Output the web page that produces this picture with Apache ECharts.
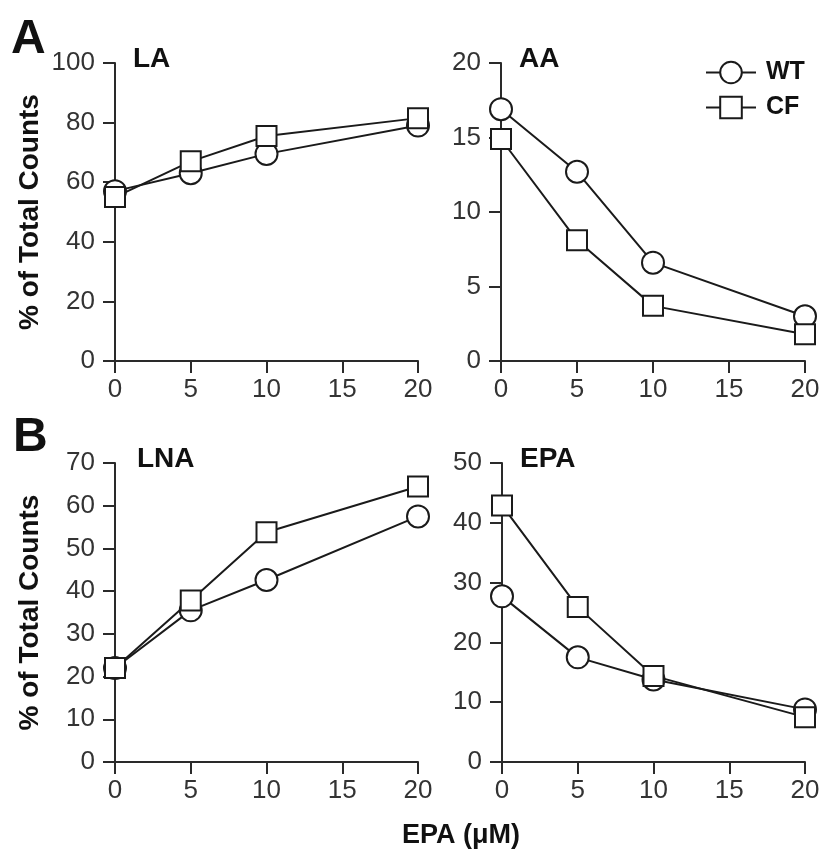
<!DOCTYPE html>
<html><head><meta charset="utf-8">
<script src="https://cdn.jsdelivr.net/npm/echarts@6/dist/echarts.min.js"></script>
<style>html,body{margin:0;padding:0;background:#fff}#c{width:824px;height:849px}</style>
</head><body><div id="c"></div>
<script>
const doses = [0, 5, 10, 20];
const xTicks = [0, 5, 10, 15, 20];
const LA_WT = [57, 63, 69.5, 79];
const LA_CF = [55, 67, 75.5, 81.5];
const AA_WT = [16.9, 12.7, 6.6, 3.0];
const AA_CF = [14.9, 8.1, 3.7, 1.8];
const LNA_WT = [22, 35.5, 42.6, 57.5];
const LNA_CF = [22, 37.8, 53.8, 64.5];
const EPA_WT = [27.7, 17.5, 13.8, 8.8];
const EPA_CF = [42.9, 25.9, 14.4, 7.5];
const panels = [
  {title:'LA',  wt:LA_WT,  cf:LA_CF,  max:100, interval:20},
  {title:'AA',  wt:AA_WT,  cf:AA_CF,  max:20,  interval:5},
  {title:'LNA', wt:LNA_WT, cf:LNA_CF, max:70,  interval:10},
  {title:'EPA', wt:EPA_WT, cf:EPA_CF, max:50,  interval:10}
];
const yName = '% of Total Counts';
const xName = 'EPA (\u03bcM)';

const FONT = '"Liberation Sans", Arial, Helvetica, sans-serif';
const AX = '#2a2a2a';
const gridPos = [
  {left:115, top:63,  width:303, height:298},
  {left:501, top:63,  width:304, height:298},
  {left:115, top:463, width:303, height:299},
  {left:502, top:463, width:303, height:299}
];
const titlePos = [[133,45],[519,45],[137,445],[520,445]];

const chart = echarts.init(document.getElementById('c'), null, {renderer:'canvas'});
const grid = [], xAxis = [], yAxis = [], series = [], title = [];
panels.forEach((p, i) => {
  grid.push(Object.assign({containLabel:false}, gridPos[i]));
  xAxis.push({
    type:'value', gridIndex:i, min:0, max:20, interval:5,
    axisLine:{show:true, onZero:false, lineStyle:{color:AX, width:2}},
    axisTick:{show:true, length:12, lineStyle:{color:AX, width:2}},
    axisLabel:{color:'#333', fontSize:26, fontFamily:FONT, margin:16},
    splitLine:{show:false}
  });
  yAxis.push({
    type:'value', gridIndex:i, min:0, max:p.max, interval:p.interval,
    name: (i % 2 === 0) ? yName : '',
    nameLocation:'middle', nameRotate:90, nameGap:71,
    nameTextStyle:{color:'#111', fontSize:28, fontWeight:'bold', fontFamily:FONT},
    axisLine:{show:true, lineStyle:{color:AX, width:2}},
    axisTick:{show:true, length:12, lineStyle:{color:AX, width:2}},
    axisLabel:{color:'#333', fontSize:26, fontFamily:FONT, margin:20},
    splitLine:{show:false}
  });
  title.push({
    text:p.title, left:titlePos[i][0], top:titlePos[i][1], padding:0,
    textStyle:{color:'#111', fontSize:28, fontWeight:'bold', fontFamily:FONT}
  });
  const mk = (name, vals, sym, size) => ({
    name, type:'line', xAxisIndex:i, yAxisIndex:i,
    data: doses.map((d, k) => [d, vals[k]]),
    symbol:sym, symbolSize:size, showSymbol:true,
    lineStyle:{color:'#1a1a1a', width:2},
    itemStyle:{color:'#fff', borderColor:'#1a1a1a', borderWidth:2},
    emphasis:{disabled:true}, animation:false, z:sym==='rect'?3:2
  });
  series.push(mk('WT', p.wt, 'circle', 22));
  series.push(mk('CF', p.cf, 'rect', 20));
});

title.push({text:'A', left:11, top:16, padding:0,
  textStyle:{color:'#111', fontSize:48, fontWeight:'bold', fontFamily:FONT}});
title.push({text:'B', left:13, top:414, padding:0,
  textStyle:{color:'#111', fontSize:48, fontWeight:'bold', fontFamily:FONT}});
title.push({text:xName, left:461, top:822, textAlign:'center', padding:0,
  textStyle:{color:'#111', fontSize:27, fontWeight:'bold', fontFamily:FONT}});

chart.setOption({
  animation:false,
  backgroundColor:'#fff',
  title, grid, xAxis, yAxis, series,
  legend:{
    data:['WT','CF'], orient:'vertical', left:705, top:60,
    itemWidth:50, itemHeight:27, itemGap:10, padding:0,
    textStyle:{color:'#111', fontSize:25, fontWeight:'bold', fontFamily:FONT, padding:[0,0,0,5]},
    selectedMode:false
  }
});
</script>
</body></html>
